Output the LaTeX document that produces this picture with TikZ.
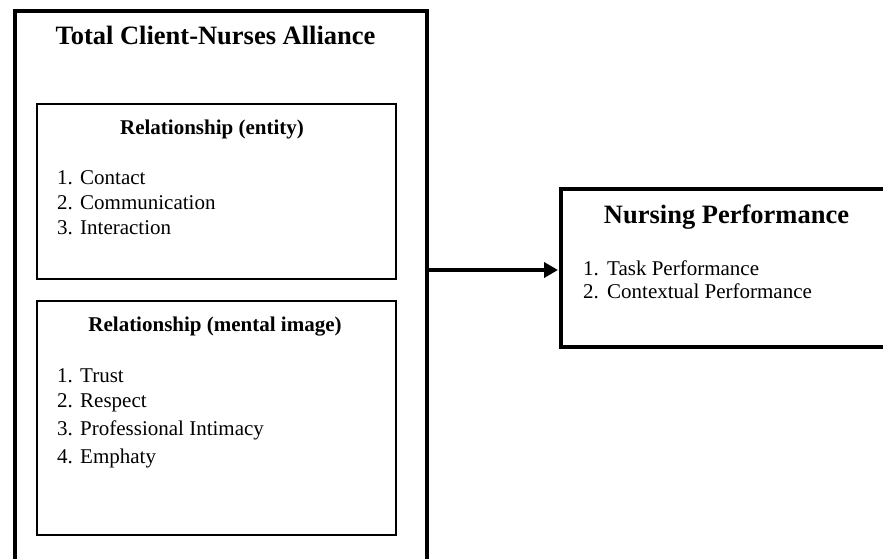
\documentclass[tikz,border=0pt]{standalone}
\usepackage{fontspec}
\setmainfont{Liberation Serif}
\usetikzlibrary{arrows.meta}
\tikzset{
  thickbox/.style={draw=black, line width=4pt, inner sep=0pt, fill=none},
  thinbox/.style={draw=black, line width=2pt, inner sep=0pt},
  bigtitle/.style={anchor=base, inner sep=0pt, font=\fontsize{26.5}{30}\selectfont\bfseries},
  subtitle/.style={anchor=base, inner sep=0pt, font=\fontsize{21}{25}\selectfont\bfseries},
  item/.style={anchor=base west, inner sep=0pt, font=\fontsize{21}{25}\selectfont},
  flowarrow/.style={line width=4pt, -{Triangle[length=14pt,width=15pt]}, shorten >=1pt}
}
\begin{document}
\begin{tikzpicture}[x=1pt,y=-1pt]
\useasboundingbox (0,0) rectangle (883,559);
\clip (0,0) rectangle (883,559);
\fill[white] (0,0) rectangle (883,559);
% outer box
\node[thickbox, anchor=north west, minimum width=412pt, minimum height=600pt] (alliance) at (12.5,9) {};
\node[bigtitle] (alltitle) at (215.5,45) {Total Client-Nurses Alliance};
% box 1
\node[thinbox, anchor=north west, minimum width=359pt, minimum height=175pt] (entity) at (36,103) {};
\node[subtitle] (enttitle) at (212,135) {Relationship (entity)};
\node[item] (en1) at (57,184) {1.};
\node[item] (et1) at (80,184) {Contact};
\node[item] (en2) at (57,209) {2.};
\node[item] (et2) at (80,209) {Communication};
\node[item] (en3) at (57,234) {3.};
\node[item] (et3) at (80,234) {Interaction};
% box 2
\node[thinbox, anchor=north west, minimum width=359pt, minimum height=234pt] (mental) at (36,300) {};
\node[subtitle] (mentitle) at (215,331) {Relationship (mental image)};
\node[item] (mn1) at (57,382) {1.};
\node[item] (mt1) at (80,382) {Trust};
\node[item] (mn2) at (57,407) {2.};
\node[item] (mt2) at (80,407) {Respect};
\node[item] (mn3) at (57,435) {3.};
\node[item] (mt3) at (80,435) {Professional Intimacy};
\node[item] (mn4) at (57,463) {4.};
\node[item] (mt4) at (80,463) {Emphaty};
% right box
\node[thickbox, anchor=north west, minimum width=360pt, minimum height=158pt] (perf) at (559,187) {};
\node[bigtitle] (perftitle) at (726.5,223) {Nursing Performance};
\node[item] (pn1) at (583,275) {1.};
\node[item] (pt1) at (607,275) {Task Performance};
\node[item] (pn2) at (583,298) {2.};
\node[item] (pt2) at (607,298) {Contextual Performance};
% arrow
\coordinate (arrowlevel) at (0,270);
\draw[flowarrow] (alliance.east |- arrowlevel) -- (perf.west |- arrowlevel);
\end{tikzpicture}
\end{document}
